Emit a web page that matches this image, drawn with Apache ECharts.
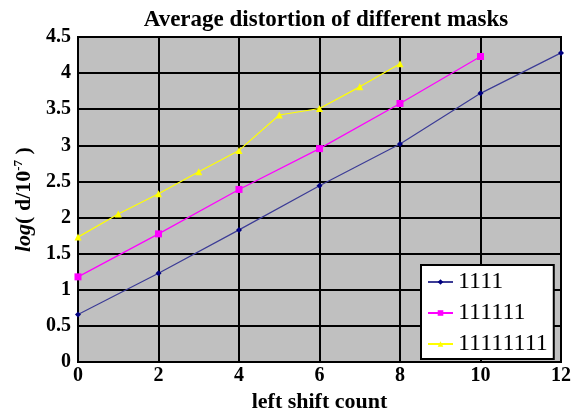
<!DOCTYPE html>
<html>
<head>
<meta charset="utf-8">
<script src="https://cdn.jsdelivr.net/npm/echarts@6/dist/echarts.min.js"></script>
<style>
  html, body { margin: 0; padding: 0; background: #fff; }
  #main { width: 574px; height: 418px; }
</style>
</head>
<body>
<div id="main"></div>
<script>
// data
var shifts4 = [0, 2, 4, 6, 8, 10, 12];
var mask4 = [0.66, 1.23, 1.83, 2.44, 3.02, 3.72, 4.28];
var shifts6 = [0, 2, 4, 6, 8, 10];
var mask6 = [1.18, 1.775, 2.39, 2.955, 3.58, 4.23];
var shifts8 = [0, 1, 2, 3, 4, 5, 6, 7, 8];
var mask8 = [1.73, 2.05, 2.33, 2.635, 2.93, 3.42, 3.51, 3.81, 4.13];
var seriesNames = ['1111', '111111', '11111111'];

function pairs(xs, ys) {
    var out = [];
    for (var i = 0; i < xs.length; i++) out.push([xs[i], ys[i]]);
    return out;
}

var serif = '"Liberation Serif", "Times New Roman", serif';
var chart = echarts.init(document.getElementById('main'));

var option = {
    animation: false,
    backgroundColor: '#fff',
    title: {
        text: 'Average distortion of different masks',
        left: 321,
        textAlign: 'center',
        top: 4,
        textStyle: { fontFamily: serif, fontSize: 23, fontWeight: 'bold', color: '#000' }
    },
    legend: {
        data: seriesNames,
        orient: 'vertical',
        left: 421,
        top: 265,
        padding: [5, 6, 3, 6],
        itemGap: 7,
        itemWidth: 25,
        itemHeight: 7,
        backgroundColor: '#fff',
        borderColor: '#000',
        borderWidth: 2,
        textStyle: { fontFamily: serif, fontSize: 24, color: '#000' }
    },
    grid: {
        left: 78,
        right: 10,
        top: 37,
        bottom: 52,
        show: true,
        backgroundColor: '#c0c0c0',
        borderColor: '#000',
        borderWidth: 2
    },
    xAxis: {
        type: 'value',
        min: 0,
        max: 12,
        interval: 2,
        name: 'left shift count',
        nameLocation: 'middle',
        nameGap: 28,
        nameTextStyle: { fontFamily: serif, fontSize: 22, fontWeight: 'bold', color: '#000' },
        axisLine: { show: true, lineStyle: { color: '#000', width: 2 } },
        axisTick: { show: false },
        axisLabel: { fontFamily: serif, fontSize: 20, fontWeight: 'bold', color: '#000', margin: 4 },
        splitLine: { show: true, lineStyle: { color: '#000', width: 2 } }
    },
    yAxis: {
        type: 'value',
        min: 0,
        max: 4.5,
        interval: 0.5,
        name: '{i|log}{n|( d/10}{s|-7}{n| )}',
        nameLocation: 'middle',
        nameRotate: 90,
        nameGap: 41,
        nameTextStyle: {
            color: '#000',
            rich: {
                i: { fontFamily: serif, fontSize: 22, fontWeight: 'bold', fontStyle: 'italic', color: '#000' },
                n: { fontFamily: serif, fontSize: 22, fontWeight: 'bold', color: '#000' },
                s: { fontFamily: serif, fontSize: 13, fontWeight: 'bold', color: '#000', verticalAlign: 'top', padding: [0, 0, 10, 0] }
            }
        },
        axisLine: { show: true, lineStyle: { color: '#000', width: 2 } },
        axisTick: { show: false },
        axisLabel: { fontFamily: serif, fontSize: 20, fontWeight: 'bold', color: '#000', margin: 7 },
        splitLine: { show: true, lineStyle: { color: '#000', width: 2 } }
    },
    series: [
        {
            name: seriesNames[0],
            type: 'line',
            data: pairs(shifts4, mask4),
            symbol: 'diamond',
            symbolSize: 6,
            itemStyle: { color: '#000080' },
            lineStyle: { color: '#3c3c96', width: 1.2 }
        },
        {
            name: seriesNames[1],
            type: 'line',
            data: pairs(shifts6, mask6),
            symbol: 'rect',
            symbolSize: 7,
            itemStyle: { color: '#ff00ff' },
            lineStyle: { color: '#ff00ff', width: 1.2 }
        },
        {
            name: seriesNames[2],
            type: 'line',
            data: pairs(shifts8, mask8),
            symbol: 'triangle',
            symbolSize: 7,
            itemStyle: { color: '#ffff00' },
            lineStyle: { color: '#ffff00', width: 1.2 }
        }
    ]
};
chart.setOption(option);
</script>
</body>
</html>
